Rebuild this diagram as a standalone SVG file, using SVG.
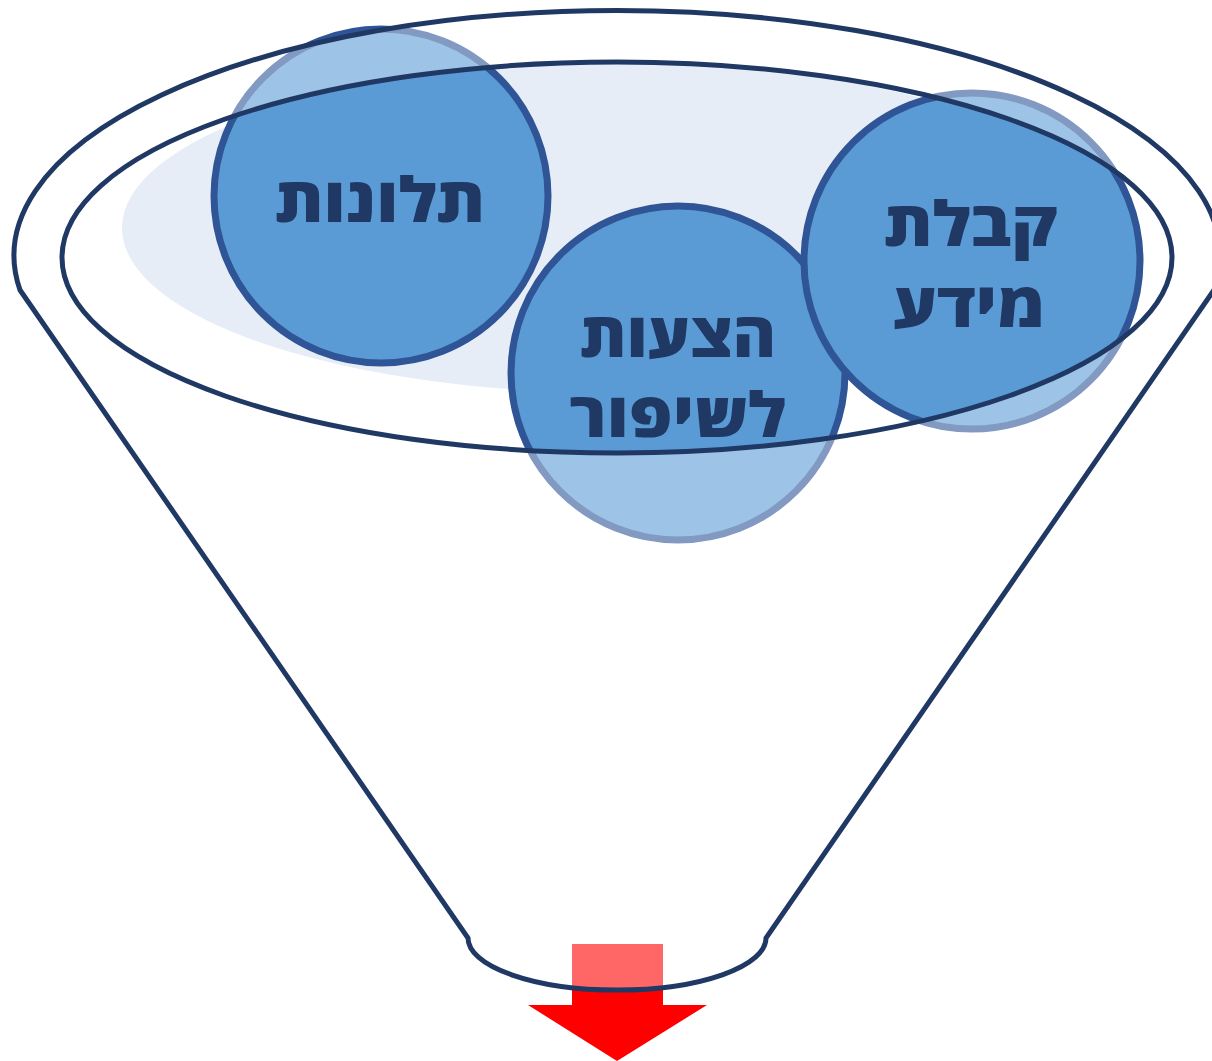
<svg xmlns="http://www.w3.org/2000/svg" width="1212" height="1061" viewBox="0 0 1212 1061">
<style>
.dark{fill:#5B9BD5;stroke:#2F5597;stroke-width:7}
.light{fill:#9DC3E6;stroke:#8299C1;stroke-width:7}
.line{fill:none;stroke:#203864;stroke-width:5}
.lbl{font-family:"Open Sans","DejaVu Sans",sans-serif;font-weight:800;font-size:62px;fill:#203864;text-anchor:middle}
</style>
<defs>
<clipPath id="ring"><path clip-rule="evenodd" d="M20,290 A603,245 0 1 1 1214,290 L766,938 A149,52 0 0 1 468,938 Z M62,257.5 A555,195.5 0 1 0 1172,257.5 A555,195.5 0 1 0 62,257.5 Z"/></clipPath>
<clipPath id="rest"><path clip-rule="evenodd" d="M-10,-10 H1230 V1080 H-10 Z M20,290 A603,245 0 1 1 1214,290 L766,938 A149,52 0 0 1 468,938 Z M62,257.5 A555,195.5 0 1 0 1172,257.5 A555,195.5 0 1 0 62,257.5 Z"/></clipPath>
</defs>
<g id="backdrop"><ellipse cx="617" cy="228" rx="495" ry="165" fill="#E6EDF7"/></g>
<g id="node-complaints">
<circle class="light" cx="381" cy="196" r="167" clip-path="url(#ring)"/>
<circle class="dark" cx="381" cy="196" r="167" clip-path="url(#rest)"/>
</g>
<g id="node-suggestions">
<circle class="light" cx="678" cy="373" r="167" clip-path="url(#ring)"/>
<circle class="dark" cx="678" cy="373" r="167" clip-path="url(#rest)"/>
</g>
<g id="node-info">
<circle class="light" cx="972" cy="261" r="168" clip-path="url(#ring)"/>
<circle class="dark" cx="972" cy="261" r="168" clip-path="url(#rest)"/>
</g>
<g id="arrow">
<path d="M572,944 H663 V1005 H707 L617,1061 L528,1005 H572 Z" fill="#FF6666" clip-path="url(#ring)"/>
<path d="M572,944 H663 V1005 H707 L617,1061 L528,1005 H572 Z" fill="#FF0000" clip-path="url(#rest)"/>
</g>
<g id="connectors">
<path class="line" d="M20,290 A603,245 0 1 1 1214,290 L766,938 A149,52 0 0 1 468,938 Z"/>
<ellipse class="line" cx="617" cy="257.5" rx="555" ry="195.5"/>
</g>
<g id="labels">
<text class="lbl" x="380" y="222" textLength="210" lengthAdjust="spacingAndGlyphs">תלונות</text>
<text class="lbl" x="678" y="357" textLength="196" lengthAdjust="spacingAndGlyphs">הצעות</text>
<text class="lbl" x="677.5" y="437" textLength="217" lengthAdjust="spacingAndGlyphs">לשיפור</text>
<text class="lbl" x="971" y="246" textLength="174" lengthAdjust="spacingAndGlyphs">קבלת</text>
<text class="lbl" x="969" y="327" textLength="152" lengthAdjust="spacingAndGlyphs">מידע</text>
</g>
</svg>
